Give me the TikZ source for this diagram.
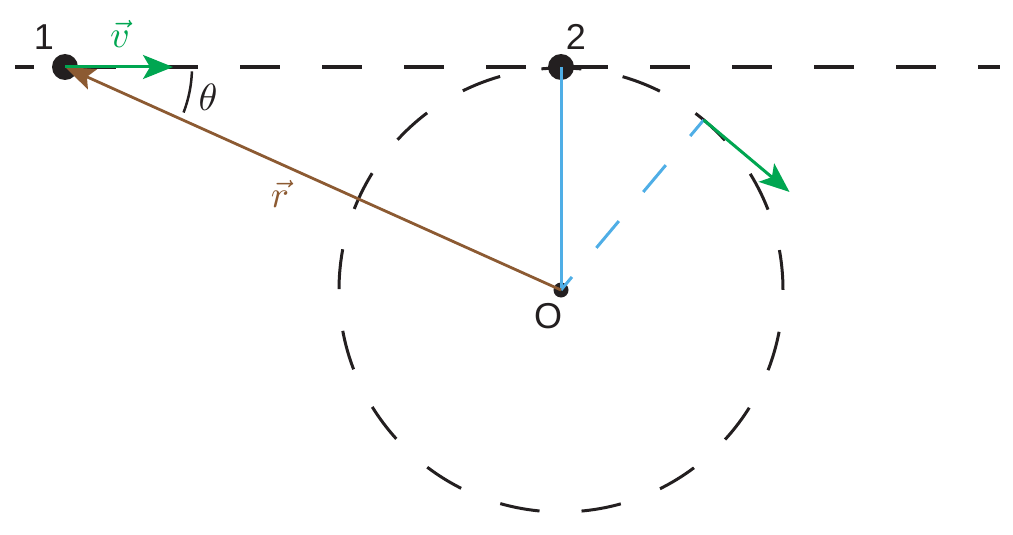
\documentclass[tikz,border=0pt]{standalone}
\usepackage{fontspec}
\newfontfamily\labfont{Liberation Sans}
\usetikzlibrary{arrows.meta,calc}
\definecolor{vgreen}{HTML}{00A651}
\definecolor{rbrown}{HTML}{8C5A32}
\definecolor{lblue}{HTML}{4FAEE6}
\definecolor{ink}{HTML}{231F20}
\begin{document}
\begin{tikzpicture}[x=1pt,y=-1pt,
  dot/.style={circle,fill=ink,inner sep=0pt,minimum size=#1},
  lab/.style={inner sep=0pt,font=\labfont\fontsize{36}{40}\selectfont,text=ink},
  mlab/.style={inner sep=0pt,scale=3.8},
  garrow/.style={draw=vgreen,line width=3pt,-{Stealth[length=30pt,width=24pt,inset=7pt]}},
  rarrow/.style={draw=rbrown,line width=2.8pt,-{Stealth[length=30pt,width=22pt,inset=6pt]}},
  bline/.style={draw=lblue,line width=3pt},
  guide/.style={draw=ink,line width=3.5pt,dash pattern=on 40pt off 42pt}
]
\useasboundingbox (0,0) rectangle (1013,535);
% coordinates
\coordinate (L) at (15,67);
\coordinate (R) at (1000,67);
\coordinate (Oc) at (561,290);
\coordinate (T) at ($(Oc)+(-50:222)$);
\coordinate (T2) at ($(T)+(40:112)$);
\coordinate (vend) at (173,67);
% dashed guide line and circle
\draw[guide,dash phase=21pt] (L) -- (R);
\draw[draw=ink,line width=3pt,dash pattern=on 40pt off 42.05pt,dash phase=40pt] (Oc) circle[radius=222];
% dots
\node[dot=26pt] (p1) at (65,67) {};
\node[dot=26pt] (p2) at (561,67) {};
\node[dot=15pt] (O) at (561,290) {};
% blue lines
\draw[bline] (O.center) -- (p2.center);
\draw[bline,dash pattern=on 35pt off 38pt,dash phase=18pt] (O.center) -- (T);
% brown vector r
\draw[rarrow] (O.center) -- (p1.center);
% green vectors
\draw[garrow] (p1.center) -- (vend);
\draw[garrow] (T) -- (T2);
% angle arc
\draw[draw=ink,line width=2.5pt] ($(p1.center)+(2:127)$) arc[start angle=2,end angle=21,radius=127];
% labels
\node[lab] (n1) at (44,37) {1};
\node[lab] (n2) at (576,37) {2};
\node[lab] (nO) at (548,316) {O};
\node[mlab,text=vgreen] (nv) at (120,34) {$\vec{v}$};
\node[mlab,text=rbrown] (nr) at (280,194) {$\vec{r}$};
\node[mlab,text=ink] (nt) at (208,97) {$\theta$};
\end{tikzpicture}
\end{document}
